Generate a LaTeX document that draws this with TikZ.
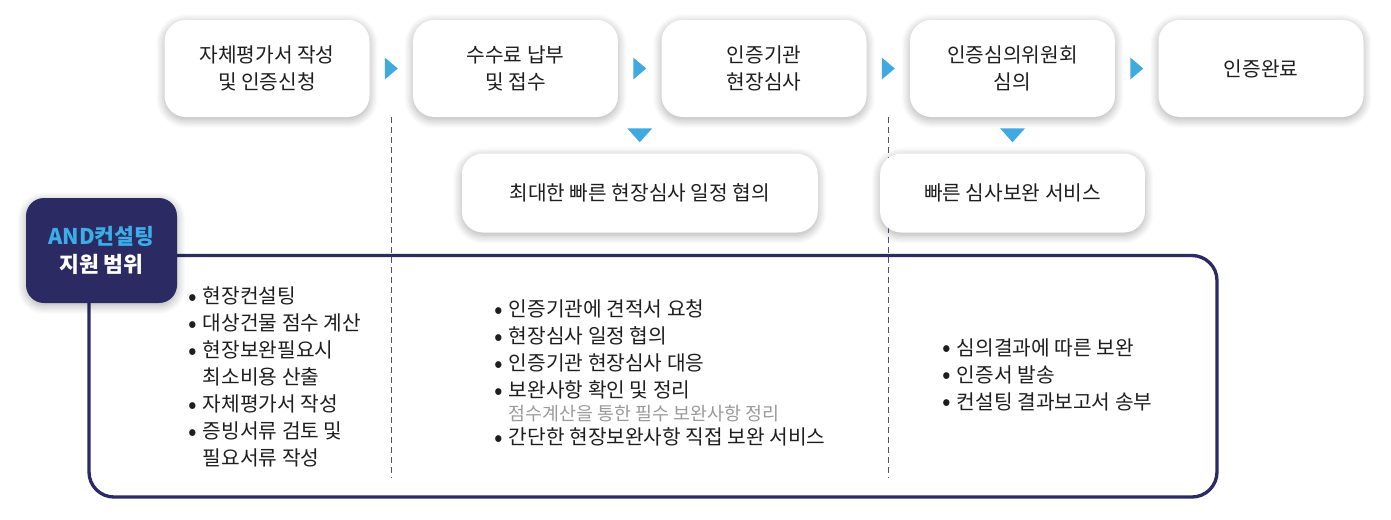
\documentclass[tikz,border=0pt]{standalone}
\usepackage{fontspec}
\setmainfont{Noto Sans CJK KR}
\usepackage{xcolor}
\usetikzlibrary{positioning, calc, backgrounds, shadows.blur}

\definecolor{navy}{HTML}{2B2A62}
\definecolor{skyblue}{HTML}{3FA9E0}
\definecolor{andblue}{HTML}{3BAEE8}
\definecolor{dashnavy}{HTML}{4F4E82}
\definecolor{bodytext}{HTML}{1E1E1E}
\definecolor{subgray}{HTML}{9A9A9A}

\newcommand{\bul}{\makebox[11pt][l]{\raisebox{-1.2pt}{\fontsize{19}{19}\selectfont\textbullet}}}
\newcommand{\nobul}{\hphantom{\makebox[11pt]{}}}

\begin{document}
\begin{tikzpicture}[x=0.75pt, y=-0.75pt,
    softshadow/.style={blur shadow={shadow xshift=0pt, shadow yshift=-2pt, shadow blur radius=6.5pt, shadow blur steps=10, shadow opacity=32}},
    stepbox/.style={fill=white, rounded corners=16pt, minimum width=153.75pt, minimum height=72.75pt, align=center, text=bodytext, font=\fontsize{15.2}{20.25}\selectfont, softshadow},
    subbox/.style={stepbox, minimum height=59.25pt},
    andbox/.style={fill=navy, rounded corners=13.5pt, minimum width=113.25pt, minimum height=78.75pt, align=center, text=white, font=\fontsize{16.2}{21}\selectfont\bfseries, softshadow},
    listtext/.style={anchor=base west, inner sep=0pt, text=bodytext, font=\fontsize{15.2}{20.25}\selectfont},
    divider/.style={dashnavy, line width=0.9pt, dash pattern=on 4.5pt off 3pt},
    frame/.style={navy, line width=2.5pt, rounded corners=18.75pt},
]
\useasboundingbox (0,0) rectangle (1391,519);

% process steps
\foreach \txt [count=\i] in {{자체평가서 작성\\및 인증신청}, {수수료 납부\\및 접수}, {인증기관\\현장심사}, {인증심의위원회\\심의}, {인증완료}} {
    \node[stepbox] (s\i) at (267+\i*248.5-248.5, 68.5) {\txt};
}
\foreach \i [evaluate=\i as \j using int(\i+1)] in {1,...,4} {
    \fill[skyblue] ($(s\i.east)!.5!(s\j.west)$) ++(-6.5,-11) -- ++(13,11) -- ++(-13,11) -- cycle;
}

\coordinate (m23) at ($(s2.south)!.5!(s3.south)$);
\node[subbox, minimum width=267pt, below=27pt of m23] (r1) {최대한 빠른 현장심사 일정 협의};
\node[subbox, minimum width=198.75pt, below=27pt of s4] (r2) {빠른 심사보완 서비스};
\fill[skyblue] ($(m23)!.5!(r1.north)$) ++(-12.5,-7) -- ++(25,0) -- ++(-12.5,14) -- cycle;
\fill[skyblue] ($(s4.south)!.5!(r2.north)$) ++(-12.5,-7) -- ++(25,0) -- ++(-12.5,14) -- cycle;

% support scope
\node[andbox] (and) at (101.5,250.5) {{\color{andblue}AND컨설팅}\\지원 범위};

\begin{scope}[on background layer]
\draw[frame] (89,255.5) rectangle (1217,497);
\draw[divider] ($(s1.south east)!.5!(s2.south west)$) -- ++(0,361);
\draw[divider] ($(s3.south east)!.5!(s4.south west)$) -- ++(0,361);
\end{scope}

\node[listtext] (c1) at (188,303.5) {\begin{tabular}[t]{@{}l@{}}
\bul 현장컨설팅\\
\bul 대상건물 점수 계산\\
\bul 현장보완필요시\\
\nobul 최소비용 산출\\
\bul 자체평가서 작성\\
\bul 증빙서류 검토 및\\
\nobul 필요서류 작성
\end{tabular}};

\node[listtext] (c2) at (494,316.5) {\begin{tabular}[t]{@{}l@{}}
\bul 인증기관에 견적서 요청\\
\bul 현장심사 일정 협의\\
\bul 인증기관 현장심사 대응\\
\bul 보완사항 확인 및 정리\\[-2.75pt]
\nobul{\fontsize{13.8}{16}\selectfont\color{subgray}점수계산을 통한 필수 보완사항 정리}\\[-2.5pt]
\bul 간단한 현장보완사항 직접 보완 서비스
\end{tabular}};

\node[listtext] (c3) at (942,355) {\begin{tabular}[t]{@{}l@{}}
\bul 심의결과에 따른 보완\\
\bul 인증서 발송\\
\bul 컨설팅 결과보고서 송부
\end{tabular}};

\end{tikzpicture}
\end{document}
